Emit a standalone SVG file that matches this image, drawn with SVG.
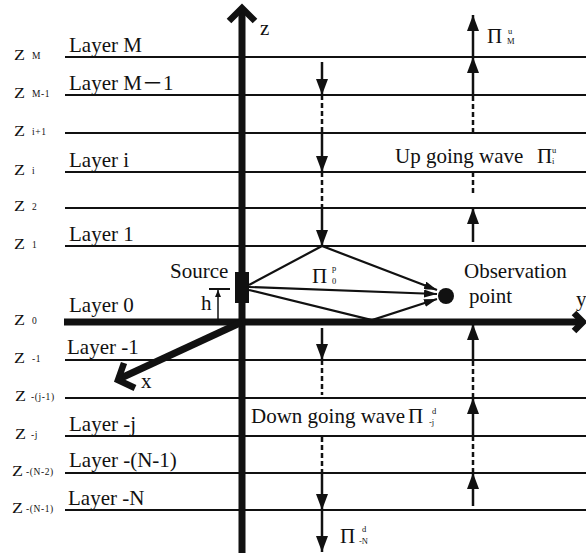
<svg xmlns="http://www.w3.org/2000/svg" width="586" height="553" viewBox="0 0 586 553">
<defs>
<style>
.t{font-family:"Liberation Serif","Noto Sans CJK SC",serif;font-size:21px;fill:#111}
.z{font-family:"Liberation Serif",serif;font-size:14px;fill:#111}
.s{font-family:"Liberation Serif",serif;font-size:9.5px;fill:#111;letter-spacing:0.6px}
.p{font-family:"Liberation Serif",serif;font-size:8.5px;fill:#111}
.ln{stroke:#111;stroke-width:2.2;fill:none}
.ax{stroke:#111;stroke-width:7;fill:none}
.ch{stroke:#111;stroke-width:6.5;fill:none;stroke-linejoin:miter}
.ar{stroke:#111;stroke-width:2.5;fill:none}
.da{stroke:#111;stroke-width:2.5;fill:none;stroke-dasharray:5 3}
.ra{stroke:#111;stroke-width:2.2;fill:none}
</style>
<marker id="ah" viewBox="0 0 16 12" refX="16" refY="6" markerWidth="16" markerHeight="12" markerUnits="userSpaceOnUse" orient="auto"><path d="M0,0 L16,6 L0,12 z" fill="#111"/></marker>
<marker id="rh" viewBox="0 0 13 8" refX="13" refY="4" markerWidth="13" markerHeight="8" markerUnits="userSpaceOnUse" orient="auto"><path d="M0,0 L13,4 L0,8 z" fill="#111"/></marker>
<marker id="sh" viewBox="0 0 7 6" refX="7" refY="3" markerWidth="7" markerHeight="6" markerUnits="userSpaceOnUse" orient="auto"><path d="M0,0 L7,3 L0,6 z" fill="#111"/></marker>
</defs>
<rect width="586" height="553" fill="#fff"/>

<g id="layers">
<g id="layer-M"><line class="ln" x1="65" y1="57" x2="586" y2="57"/><text class="t" x="69" y="52">Layer M</text><text class="z" x="14" y="60" textLength="11" lengthAdjust="spacingAndGlyphs">Z</text><text class="s" x="32" y="59">M</text></g>
<g id="layer-M-1"><line class="ln" x1="65" y1="95" x2="586" y2="95"/><text class="t" x="69" y="90">Layer M－1</text><text class="z" x="14" y="98" textLength="11" lengthAdjust="spacingAndGlyphs">Z</text><text class="s" x="32" y="97">M-1</text></g>
<g id="layer-i1"><line class="ln" x1="65" y1="133" x2="586" y2="133"/><text class="z" x="14" y="136" textLength="11" lengthAdjust="spacingAndGlyphs">Z</text><text class="s" x="32" y="135">i+1</text></g>
<g id="layer-i"><line class="ln" x1="65" y1="172" x2="586" y2="172"/><text class="t" x="69" y="167">Layer i</text><text class="z" x="14" y="175" textLength="11" lengthAdjust="spacingAndGlyphs">Z</text><text class="s" x="32" y="174">i</text></g>
<g id="layer-2"><line class="ln" x1="65" y1="208" x2="586" y2="208"/><text class="z" x="14" y="211" textLength="11" lengthAdjust="spacingAndGlyphs">Z</text><text class="s" x="32" y="210">2</text></g>
<g id="layer-1"><line class="ln" x1="65" y1="246" x2="586" y2="246"/><text class="t" x="69" y="241">Layer 1</text><text class="z" x="14" y="249" textLength="11" lengthAdjust="spacingAndGlyphs">Z</text><text class="s" x="32" y="248">1</text></g>
<g id="layer-0"><text class="t" x="69" y="312">Layer 0</text><text class="z" x="14" y="325" textLength="11" lengthAdjust="spacingAndGlyphs">Z</text><text class="s" x="32" y="324">0</text></g>
<g id="layer-m1"><line class="ln" x1="65" y1="360" x2="586" y2="360"/><text class="t" x="67" y="354">Layer -1</text><text class="z" x="14" y="363" textLength="11" lengthAdjust="spacingAndGlyphs">Z</text><text class="s" x="32" y="362">-1</text></g>
<g id="layer-mj1"><line class="ln" x1="65" y1="398" x2="586" y2="398"/><text class="z" x="15" y="401" textLength="11" lengthAdjust="spacingAndGlyphs">Z</text><text class="s" x="31" y="400">-(j-1)</text></g>
<g id="layer-mj"><line class="ln" x1="65" y1="436" x2="586" y2="436"/><text class="t" x="69" y="431">Layer -j</text><text class="z" x="15" y="439" textLength="11" lengthAdjust="spacingAndGlyphs">Z</text><text class="s" x="31" y="438">-j</text></g>
<g id="layer-mN1"><line class="ln" x1="65" y1="473" x2="586" y2="473"/><text class="t" x="69" y="467">Layer -(N-1)</text><text class="z" x="12" y="476" textLength="11" lengthAdjust="spacingAndGlyphs">Z</text><text class="s" x="26" y="475">-(N-2)</text></g>
<g id="layer-mN"><line class="ln" x1="65" y1="510" x2="586" y2="510"/><text class="t" x="68" y="505">Layer -N</text><text class="z" x="12" y="513" textLength="11" lengthAdjust="spacingAndGlyphs">Z</text><text class="s" x="26" y="512">-(N-1)</text></g>
</g>

<g id="axes">
<line class="ax" x1="64" y1="322" x2="582" y2="322"/>
<polyline class="ch" points="574,313 583,322 574,331"/>
<text class="t" x="576" y="306">y</text>
<line class="ax" x1="242" y1="553" x2="242" y2="10"/>
<polyline class="ch" points="229,21 242,8 255,21"/>
<text class="t" x="260" y="35">z</text>
<line class="ax" x1="242" y1="322" x2="121" y2="378"/>
<polyline class="ch" points="124,363 118,380 135,388"/>
<text class="t" x="141" y="388">x</text>
</g>

<g id="source">
<rect x="235" y="272" width="14" height="31" fill="#111"/>
<text class="t" x="170" y="278">Source</text>
<line x1="209" y1="289" x2="230" y2="289" stroke="#111" stroke-width="2"/>
<line x1="218" y1="322" x2="218" y2="290" stroke="#111" stroke-width="1.5" marker-end="url(#sh)"/>
<text class="t" x="201" y="310">h</text>
</g>

<g id="observation">
<circle cx="446" cy="296" r="8" fill="#111"/>
<text class="t" x="464" y="278">Observation</text>
<text class="t" x="469" y="303">point</text>
</g>

<g id="connectors">
<line class="ar" x1="322" y1="62" x2="322" y2="95" marker-end="url(#ah)"/>
<line class="da" x1="322" y1="95" x2="322" y2="133"/>
<line class="ar" x1="322" y1="133" x2="322" y2="172" marker-end="url(#ah)"/>
<line class="da" x1="322" y1="172" x2="322" y2="208"/>
<line class="ar" x1="322" y1="208" x2="322" y2="246" marker-end="url(#ah)"/>
<line class="ar" x1="322" y1="328" x2="322" y2="360" marker-end="url(#ah)"/>
<line class="da" x1="322" y1="360" x2="322" y2="395"/>
<line class="da" x1="322" y1="437" x2="322" y2="473"/>
<line class="ar" x1="322" y1="473" x2="322" y2="510" marker-end="url(#ah)"/>
<line class="ar" x1="322" y1="510" x2="322" y2="552" marker-end="url(#ah)"/>
<line class="ar" x1="473" y1="57" x2="473" y2="15" marker-end="url(#ah)"/>
<line class="ar" x1="473" y1="95" x2="473" y2="57" marker-end="url(#ah)"/>
<line class="da" x1="473" y1="133" x2="473" y2="95"/>
<line class="da" x1="473" y1="193" x2="473" y2="172"/>
<line class="ar" x1="473" y1="242" x2="473" y2="208" marker-end="url(#ah)"/>
<line class="ar" x1="473" y1="360" x2="473" y2="324" marker-end="url(#ah)"/>
<line class="da" x1="473" y1="398" x2="473" y2="360"/>
<line class="ar" x1="473" y1="436" x2="473" y2="398" marker-end="url(#ah)"/>
<line class="da" x1="473" y1="473" x2="473" y2="436"/>
<line class="ar" x1="473" y1="506" x2="473" y2="473" marker-end="url(#ah)"/>
<polyline class="ra" points="249,285 322,246 437,290" marker-end="url(#rh)"/>
<line class="ra" x1="249" y1="287" x2="437" y2="294" marker-end="url(#rh)"/>
<polyline class="ra" points="249,290 372,320 437,299" marker-end="url(#rh)"/>
</g>

<g id="labels">
<text class="t" x="487" y="43">Π</text><text class="p" x="508" y="34">u</text><text class="p" x="507" y="44">M</text>
<text class="t" x="395" y="163">Up going wave</text><text class="t" x="537" y="163">Π</text><text class="p" x="552" y="153">u</text><text class="p" x="552" y="164">i</text>
<text class="t" x="312" y="283">Π</text><text class="p" x="332" y="271">p</text><text class="p" x="332" y="284">0</text>
<text class="t" x="251" y="423">Down going wave</text><text class="t" x="408" y="423">Π</text><text class="p" x="432" y="414">d</text><text class="p" x="429" y="425">-j</text>
<text class="t" x="340" y="543">Π</text><text class="p" x="362" y="532">d</text><text class="p" x="359" y="544">-N</text>
</g>
</svg>
